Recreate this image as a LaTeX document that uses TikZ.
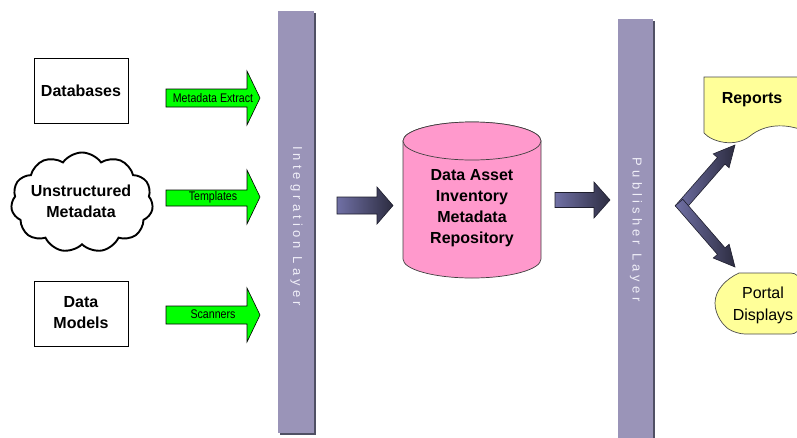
\documentclass[tikz,border=0pt]{standalone}
\usepackage{fontspec}
\setmainfont{Liberation Sans}
\usetikzlibrary{shapes.symbols}

\definecolor{barcol}{RGB}{154,148,184}
\definecolor{barshade}{RGB}{80,80,100}
\definecolor{bartext}{RGB}{240,239,248}
\definecolor{arrowL}{RGB}{112,112,165}
\definecolor{arrowR}{RGB}{44,44,64}
\definecolor{arrowEdge}{RGB}{30,30,45}
\definecolor{repopink}{RGB}{255,153,204}
\definecolor{docyellow}{RGB}{255,255,153}
\definecolor{flowgreen}{RGB}{0,255,0}

\newcommand\flowlabel[1]{\scalebox{0.85}[1]{#1}}

\tikzset{
  srcbox/.style={draw=black, line width=0.8pt, fill=white,
    minimum width=94pt, minimum height=65pt, inner sep=0pt},
  bigtext/.style={font=\fontsize{16}{21}\selectfont\bfseries, align=center, inner sep=0pt},
  plaintext/.style={font=\fontsize{16}{22}\selectfont, align=center, inner sep=0pt},
  greenarrow/.style={fill=flowgreen, draw=black, line width=0.6pt},
  arrowtext/.style={font=\fontsize{12.5}{14}\selectfont, inner sep=0pt},
  darkarrow/.style={left color=arrowL, right color=arrowR, draw=arrowEdge, line width=0.6pt},
  layerbar/.style={fill=barcol},
  barshadow/.style={fill=barshade},
  layertext/.style={rotate=-90, text=bartext, inner sep=0pt,
    font=\fontsize{13}{15}\selectfont\addfontfeature{LetterSpace=32}},
  cylbody/.style={fill=repopink, draw=black!75, line width=0.7pt},
  docshape/.style={fill=docyellow, draw=black!70, line width=0.7pt}
}

\begin{document}
\begin{tikzpicture}[x=1pt, y=-1pt]
\useasboundingbox (0,0) rectangle (797,437);
\fill[white] (0,0) rectangle (797,437);

% source boxes
\node[srcbox] (db) at (81,90.5) {};
\node[bigtext] (dbtext) at (81,90.5) {Databases};
\node[srcbox] (dm) at (81,313.5) {};
\node[bigtext] (dmtext) at (81,313) {Data\\Models};

% cloud of unstructured metadata
\node[cloud, draw=black, line width=1.9pt, fill=white, cloud puffs=11,
      cloud puff arc=110, aspect=1.65, minimum width=142pt, minimum height=100pt,
      inner sep=0pt] (cloud) at (82,202.5) {};
\node[bigtext] (cloudtext) at (81,201) {Unstructured\\Metadata};

% green flow arrows into the integration layer
\draw[greenarrow] (166,89) -- (247,89) -- (247,71) -- (260,98) -- (247,125)
  -- (247,107) -- (166,107) -- cycle;
\node[arrowtext] (extract) at (213,98) {\flowlabel{Metadata Extract}};
\draw[greenarrow] (166,190) -- (247,190) -- (247,170) -- (260,197) -- (247,224)
  -- (247,206) -- (166,206) -- cycle;
\node[arrowtext] (templ) at (213,197.5) {\flowlabel{Templates}};
\draw[greenarrow] (166,306) -- (247,306) -- (247,288) -- (260,315) -- (247,342)
  -- (247,324) -- (166,324) -- cycle;
\node[arrowtext] (scan) at (213,314.5) {\flowlabel{Scanners}};

% layer bars
\fill[barshadow] (279.5,12.5) rectangle (315.5,434.5);
\fill[layerbar] (278,11) rectangle (314,433);
\node[layertext] (intlayer) at (296.5,226) {Integration Layer};
\fill[barshadow] (619.5,20.5) rectangle (654.5,440);
\fill[layerbar] (618,19) rectangle (653,440);
\node[layertext] (publayer) at (636,230) {Publisher Layer};

% dark block arrows around the repository
\shadedraw[darkarrow] (337,197) -- (377,197) -- (377,187) -- (393,205.5) -- (377,224)
  -- (377,214) -- (337,214) -- cycle;
\shadedraw[darkarrow] (555,192.5) -- (594,192.5) -- (594,182) -- (610,200) -- (594,218)
  -- (594,207.5) -- (555,207.5) -- cycle;

% repository cylinder
\path[cylbody] (403,141) -- (403,259)
  arc[start angle=180, end angle=0, x radius=69, y radius=19]
  -- (541,141)
  arc[start angle=0, end angle=-180, x radius=69, y radius=19] -- cycle;
\draw[cylbody] (472,141) ellipse [x radius=69, y radius=19];
\node[bigtext] (repo) at (472,208) {Data Asset\\Inventory\\Metadata\\Repository};

% branching arrows towards the outputs
\shadedraw[darkarrow] (682.76,212.29) -- (724.93,164.09) -- (729.07,167.71) -- (735,145)
  -- (713.27,153.89) -- (717.41,157.51) -- (675.24,205.71) -- cycle;
\shadedraw[darkarrow] (682.78,199.22) -- (725.01,247.86) -- (729.16,244.26) -- (735,267)
  -- (713.30,258.02) -- (717.45,254.42) -- (675.22,205.78) -- cycle;

% output documents
\begin{scope}
\clip (0,0) rectangle (797,437);
\draw[docshape] (704,77) -- (805,77) -- (805,131)
  .. controls (785,123) and (765,124) .. (750,136)
  .. controls (735,148) and (712,142) .. (704,133) -- cycle;
\draw[docshape] (739,273) [rounded corners=9] -- (800,273) -- (800,334) -- (736,334)
  [sharp corners] .. controls (724,326) and (715,316) .. (715,303)
  .. controls (715,290) and (726,279) .. (739,273) -- cycle;
\end{scope}
\node[bigtext] (reports) at (752,100) {Reports};
\node[plaintext] (portal) at (763,305) {Portal\\Displays};
\end{tikzpicture}
\end{document}
